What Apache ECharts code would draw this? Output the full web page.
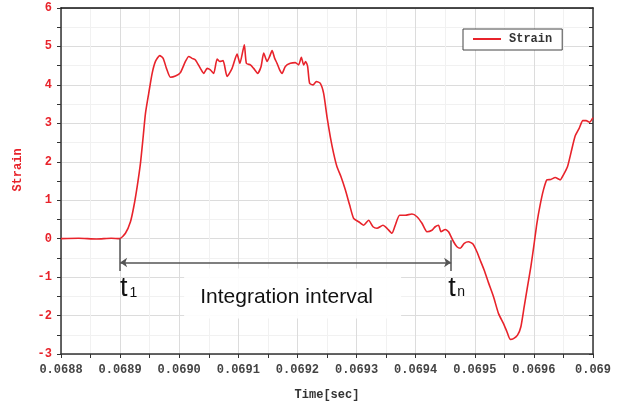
<!DOCTYPE html>
<html>
<head>
<meta charset="utf-8">
<script src="https://cdn.jsdelivr.net/npm/echarts@6/dist/echarts.min.js"></script>
<style>
html, body { margin: 0; padding: 0; background: #fff; }
#main { width: 622px; height: 407px; }
</style>
</head>
<body>
<div id="main"></div>
<script>
// 时间 (sec)
var times = [
    0.0688000, 0.0688300, 0.0688600, 0.0688850, 0.0688990, 0.0689090, 0.0689175, 0.0689231, 0.0689288, 0.0689344,
    0.0689390, 0.0689429, 0.0689484, 0.0689542, 0.0689598, 0.0689670, 0.0689728, 0.0689784, 0.0689851, 0.0689936,
    0.0690020, 0.0690105, 0.0690161, 0.0690218, 0.0690274, 0.0690358, 0.0690414, 0.0690472, 0.0690527, 0.0690583,
    0.0690641, 0.0690685, 0.0690742, 0.0690810, 0.0690894, 0.0690979, 0.0691026, 0.0691080, 0.0691102, 0.0691136,
    0.0691204, 0.0691259, 0.0691327, 0.0691385, 0.0691429, 0.0691486, 0.0691530, 0.0691571, 0.0691615, 0.0691655,
    0.0691699, 0.0691740, 0.0691795, 0.0691880, 0.0691964, 0.0692020, 0.0692066, 0.0692105, 0.0692139, 0.0692172,
    0.0692206, 0.0692264, 0.0692320, 0.0692387, 0.0692443, 0.0692500, 0.0692556, 0.0692612, 0.0692669, 0.0692737,
    0.0692810, 0.0692882, 0.0692950, 0.0693035, 0.0693120, 0.0693204, 0.0693278, 0.0693346, 0.0693447, 0.0693515,
    0.0693599, 0.0693655, 0.0693728, 0.0693824, 0.0693937, 0.0694022, 0.0694107, 0.0694191, 0.0694276, 0.0694331,
    0.0694387, 0.0694428, 0.0694501, 0.0694556, 0.0694641, 0.0694698, 0.0694754, 0.0694822, 0.0694894, 0.0694969,
    0.0695036, 0.0695092, 0.0695160, 0.0695233, 0.0695317, 0.0695402, 0.0695486, 0.0695544, 0.0695600, 0.0695655,
    0.0695723, 0.0695780, 0.0695836, 0.0695892, 0.0695949, 0.0696005, 0.0696051, 0.0696106, 0.0696162, 0.0696220,
    0.0696287, 0.0696360, 0.0696445, 0.0696500, 0.0696568, 0.0696625, 0.0696698, 0.0696766, 0.0696828, 0.0696884,
    0.0696940, 0.0697000
];
// 应变
var strain = [
    0.00, 0.01, -0.01, 0.01, 0.00, 0.14, 0.44, 0.83, 1.35, 1.96,
    2.65, 3.26, 3.78, 4.30, 4.61, 4.76, 4.69, 4.43, 4.20, 4.23,
    4.32, 4.61, 4.74, 4.69, 4.65, 4.43, 4.30, 4.43, 4.39, 4.30,
    4.67, 4.61, 4.63, 4.22, 4.43, 4.80, 4.56, 4.91, 5.04, 4.56,
    4.52, 4.43, 4.30, 4.48, 4.83, 4.61, 4.74, 4.89, 4.69, 4.56,
    4.39, 4.30, 4.48, 4.56, 4.58, 4.52, 4.72, 4.52, 4.61, 4.48,
    4.04, 4.00, 4.09, 4.04, 3.78, 3.17, 2.65, 2.22, 1.87, 1.61,
    1.27, 0.88, 0.53, 0.44, 0.35, 0.48, 0.31, 0.27, 0.35, 0.27,
    0.14, 0.35, 0.61, 0.61, 0.64, 0.57, 0.40, 0.18, 0.22, 0.31,
    0.35, 0.18, 0.24, 0.18, -0.08, -0.21, -0.25, -0.12, -0.08, -0.14,
    -0.34, -0.56, -0.82, -1.15, -1.51, -1.95, -2.21, -2.42, -2.62, -2.60,
    -2.51, -2.29, -1.77, -1.25, -0.73, -0.12, 0.40, 0.88, 1.27, 1.53,
    1.54, 1.59, 1.53, 1.66, 1.87, 2.22, 2.67, 2.87, 3.07, 3.07,
    3.03, 3.15
];

// 积分区间标注
var t1 = 0.0689;
var tn = 0.06946;
var tnStrain = -0.04;
var markBottom = -0.84;
var arrowY = -0.62;

var monoFont = 'Liberation Mono';
var red = '#e8232b';
var axisColor = '#333';

var seriesData = times.map(function (t, i) { return [t, strain[i]]; });

var myChart = echarts.init(document.getElementById('main'));

var option = {
    animation: false,
    grid: { left: 61, right: 29, top: 8, bottom: 53 },
    legend: {
        data: [{ name: 'Strain', icon: 'rect' }],
        left: 463,
        top: 29,
        padding: [4, 10, 5, 10],
        itemWidth: 28,
        itemHeight: 2,
        itemGap: 0,
        borderColor: '#444',
        borderWidth: 1,
        backgroundColor: '#fff',
        textStyle: { fontFamily: monoFont, fontWeight: 'bold', fontSize: 12, color: '#333', padding: [0, 0, 0, 3] }
    },
    xAxis: [{
        type: 'value',
        min: 0.0688,
        max: 0.0697,
        interval: 0.0001,
        position: 'bottom',
        name: 'Time[sec]',
        nameLocation: 'middle',
        nameGap: 35,
        nameTextStyle: { fontFamily: monoFont, fontWeight: 'bold', fontSize: 12, color: '#333' },
        axisLine: { onZero: false, lineStyle: { color: axisColor, width: 1.5 } },
        axisTick: { length: 4, lineStyle: { color: axisColor } },
        minorTick: { show: true, splitNumber: 2, length: 4, lineStyle: { color: axisColor } },
        splitLine: { lineStyle: { color: '#dcdcdc' } },
        minorSplitLine: { show: true, lineStyle: { color: '#f1f1f1' } },
        axisLabel: {
            margin: 10,
            fontFamily: monoFont,
            fontWeight: 'bold',
            fontSize: 12,
            color: '#444',
            formatter: function (v) { return v > 0.06969 ? '0.069' : v.toFixed(4); }
        }
    }, {
        type: 'value',
        min: 0.0688,
        max: 0.0697,
        position: 'top',
        axisLine: { onZero: false, lineStyle: { color: '#111', width: 1.5 } },
        axisTick: { show: false },
        axisLabel: { show: false },
        splitLine: { show: false }
    }],
    yAxis: [{
        type: 'value',
        min: -3,
        max: 6,
        interval: 1,
        position: 'left',
        name: 'Strain',
        nameLocation: 'middle',
        nameGap: 37,
        nameTextStyle: { fontFamily: monoFont, fontWeight: 'bold', fontSize: 12, color: red, padding: [0, 0, 0, 22] },
        axisLine: { show: true, onZero: false, lineStyle: { color: axisColor, width: 1.5 } },
        axisTick: { show: true, length: 4, lineStyle: { color: axisColor } },
        minorTick: { show: true, splitNumber: 2, length: 4, lineStyle: { color: axisColor } },
        splitLine: { lineStyle: { color: '#dcdcdc' } },
        minorSplitLine: { show: true, lineStyle: { color: '#f1f1f1' } },
        axisLabel: { margin: 9, fontFamily: monoFont, fontWeight: 'bold', fontSize: 12, color: red }
    }, {
        type: 'value',
        min: -3,
        max: 6,
        interval: 1,
        position: 'right',
        axisLine: { show: true, onZero: false, lineStyle: { color: axisColor, width: 1.5 } },
        axisTick: { show: true, inside: true, length: 4, lineStyle: { color: axisColor } },
        minorTick: { show: true, splitNumber: 2, length: 4, lineStyle: { color: axisColor } },
        axisLabel: { show: false },
        splitLine: { show: false }
    }],
    series: [{
        name: 'Strain',
        type: 'line',
        xAxisIndex: 0,
        yAxisIndex: 0,
        symbol: 'none',
        smooth: 0.2,
        data: seriesData,
        lineStyle: { color: red, width: 1.6 },
        itemStyle: { color: red },
        markLine: {
            silent: true,
            symbol: ['none', 'none'],
            symbolSize: 7,
            label: { show: false },
            lineStyle: { color: '#555', width: 1.5, type: 'solid' },
            data: [
                [{ coord: [t1, 0] }, { coord: [t1, markBottom] }],
                [{ coord: [tn, tnStrain] }, { coord: [tn, markBottom] }],
                [{ coord: [t1, arrowY], symbol: 'arrow' }, { coord: [tn, arrowY], symbol: 'arrow' }]
            ]
        }
    }]
};

myChart.setOption(option);

// 标注文字
var p1 = myChart.convertToPixel({ xAxisIndex: 0, yAxisIndex: 0 }, [t1, arrowY]);
var pn = myChart.convertToPixel({ xAxisIndex: 0, yAxisIndex: 0 }, [tn, arrowY]);
var labelFont = 'Liberation Sans';

myChart.setOption({
    graphic: [
        {
            type: 'rect', z: 10, silent: true,
            shape: { x: p1[0] + 64, y: p1[1] + 6, width: 217, height: 50 },
            style: { fill: 'rgba(255,255,255,0.9)' }
        },
        {
            type: 'text', z: 11, x: p1[0], y: p1[1] + 26,
            style: { text: 't', font: '27px ' + labelFont, fill: '#111', verticalAlign: 'middle' }
        },
        {
            type: 'text', z: 11, x: p1[0] + 9.5, y: p1[1] + 31,
            style: { text: '1', font: '14px ' + labelFont, fill: '#111', verticalAlign: 'middle' }
        },
        {
            type: 'text', z: 11, x: (p1[0] + pn[0]) / 2 + 1, y: p1[1] + 35,
            style: { text: 'Integration interval', font: '21px ' + labelFont, fill: '#111', align: 'center', verticalAlign: 'middle' }
        },
        {
            type: 'text', z: 11, x: pn[0] - 3, y: pn[1] + 26,
            style: { text: 't', font: '27px ' + labelFont, fill: '#111', verticalAlign: 'middle' }
        },
        {
            type: 'text', z: 11, x: pn[0] + 6, y: pn[1] + 30,
            style: { text: 'n', font: '14px ' + labelFont, fill: '#111', verticalAlign: 'middle' }
        }
    ]
});
</script>
</body>
</html>
